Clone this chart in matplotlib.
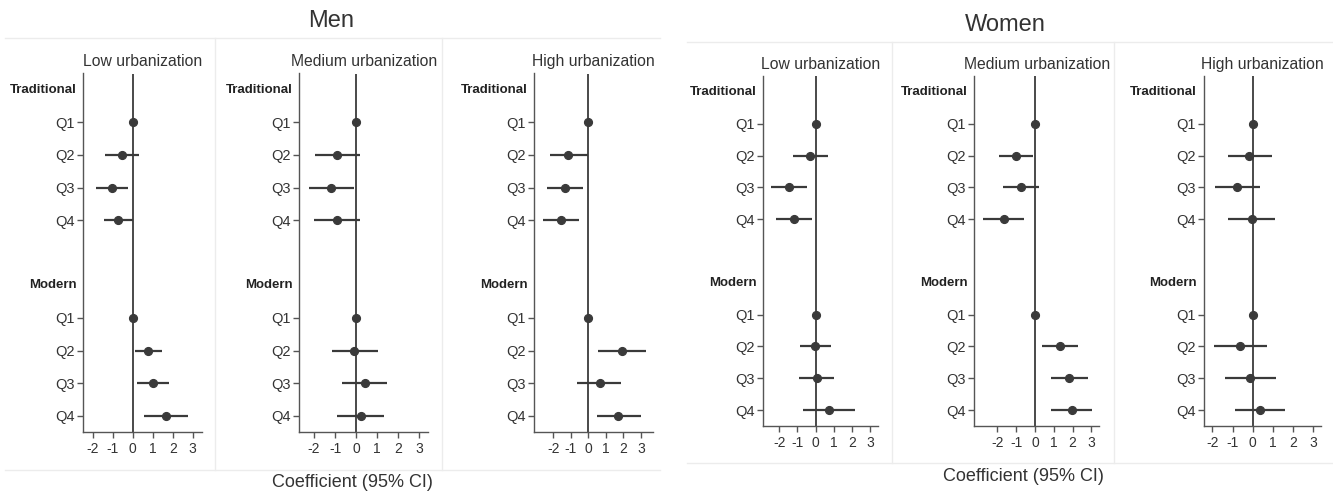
import matplotlib
matplotlib.use('Agg')
import matplotlib.pyplot as plt
from matplotlib.lines import Line2D

plt.rcParams['font.family'] = ['Liberation Sans', 'DejaVu Sans']
plt.rcParams['axes.unicode_minus'] = False

# ---------------- data ----------------
categories = ['Q1', 'Q2', 'Q3', 'Q4']
groups = ['Traditional', 'Modern']
panel_titles = ['Low urbanization', 'Medium urbanization', 'High urbanization']
sex_titles = ['Men', 'Women']
xticks = [-2, -1, 0, 1, 2, 3]

# order: Traditional Q1..Q4, Modern Q1..Q4
men_low_est = [0, -0.52, -1.05, -0.72, 0, 0.75, 1.03, 1.68]
men_low_lo = [0, -1.38, -1.85, -1.42, 0, 0.10, 0.23, 0.58]
men_low_hi = [0, 0.33, -0.25, 0.00, 0, 1.45, 1.83, 2.78]

men_med_est = [0, -0.90, -1.17, -0.90, 0, -0.08, 0.41, 0.22]
men_med_lo = [0, -1.95, -2.24, -1.98, 0, -1.13, -0.65, -0.89]
men_med_hi = [0, 0.19, -0.11, 0.19, 0, 1.03, 1.48, 1.35]

men_high_est = [0, -1.16, -1.35, -1.54, 0, 1.90, 0.65, 1.71]
men_high_lo = [0, -2.19, -2.38, -2.57, 0, 0.57, -0.65, 0.51]
men_high_hi = [0, -0.04, -0.32, -0.51, 0, 3.28, 1.89, 2.99]

women_low_est = [0, -0.29, -1.47, -1.19, 0, -0.06, 0.06, 0.72]
women_low_lo = [0, -1.23, -2.46, -2.18, 0, -0.84, -0.92, -0.72]
women_low_hi = [0, 0.70, -0.48, -0.22, 0, 0.83, 0.99, 2.17]

women_med_est = [0, -1.01, -0.76, -1.66, 0, 1.33, 1.79, 1.95]
women_med_lo = [0, -1.91, -1.72, -2.76, 0, 0.37, 0.83, 0.88]
women_med_hi = [0, -0.11, 0.21, -0.58, 0, 2.28, 2.80, 3.01]

women_high_est = [0, -0.17, -0.76, -0.05, 0, -0.64, -0.13, 0.36]
women_high_lo = [0, -1.24, -1.85, -1.21, 0, -1.92, -1.36, -0.88]
women_high_hi = [0, 0.96, 0.36, 1.11, 0, 0.69, 1.14, 1.59]

# ---------------- layout ----------------
W, H = 1333, 494
fig = plt.figure(figsize=(W / 100, H / 100), dpi=100)
fig.patch.set_facecolor('white')

DARK = '#3a3a3a'
AXC = '#555555'
TXT = '#333333'
SEP = '#ececec'


def fx(px):
    return px / W


def fy(py):
    return 1 - py / H


def hline(x0, x1, y):
    fig.add_artist(Line2D([fx(x0), fx(x1)], [fy(y), fy(y)], color=SEP, lw=1.0,
                          transform=fig.transFigure))


def vline(x, y0, y1):
    fig.add_artist(Line2D([fx(x), fx(x)], [fy(y0), fy(y1)], color=SEP, lw=1.0,
                          transform=fig.transFigure))


panels = [
    # (sex, panel idx, est, lo, hi, x0, x1, ytop, ybot, xlim, title_y)
    (0, 0, men_low_est, men_low_lo, men_low_hi, 83.3, 201.7, 73.5, 432, (-2.47, 3.45), 61.5),
    (0, 1, men_med_est, men_med_lo, men_med_hi, 299.3, 428.3, 73.5, 432, (-2.70, 3.44), 61.5),
    (0, 2, men_high_est, men_high_lo, men_high_hi, 534.3, 653.3, 73.5, 432, (-3.09, 3.71), 61.5),
    (1, 0, women_low_est, women_low_lo, women_low_hi, 763.3, 878.3, 76, 426, (-2.88, 3.45), 64.5),
    (1, 1, women_med_est, women_med_lo, women_med_hi, 974.3, 1099.3, 76, 426, (-3.22, 3.42), 64.5),
    (1, 2, women_high_est, women_high_lo, women_high_hi, 1203.7, 1320.7, 76, 426, (-2.43, 3.37), 64.5),
]

ypos = [g * 6 + 1 + i for g in range(len(groups)) for i in range(len(categories))]
ylabels = categories * len(groups)

for sex, pi, est, lo, hi, x0, x1, yt, yb, xl, ty in panels:
    ax = fig.add_axes([fx(x0), fy(yb), fx(x1) - fx(x0), (yb - yt) / H])
    ax.set_xlim(*xl)
    ax.set_ylim(10.5, -0.5)
    ax.axvline(0, color=DARK, lw=1.3, zorder=1)
    ax.hlines(ypos, lo, hi, color=DARK, lw=1.6, zorder=2)
    ax.plot(est, ypos, 'o', ms=5.6, color=DARK, zorder=3)
    ax.set_yticks(ypos)
    ax.set_yticklabels(ylabels, fontsize=10.5, color=TXT)
    ax.set_xticks(xticks)
    ax.set_xticklabels([str(t) for t in xticks], fontsize=10, color=TXT)
    for s in ['top', 'right']:
        ax.spines[s].set_visible(False)
    for s in ['left', 'bottom']:
        ax.spines[s].set_color(AXC)
        ax.spines[s].set_linewidth(1.0)
    ax.tick_params(axis='both', direction='out', length=4.3, width=1.0,
                   color=AXC, pad=1.5)
    ax.tick_params(axis='x', pad=3)
    ax.set_facecolor('none')
    for g, name in enumerate(groups):
        ax.annotate(name, xy=(0, g * 6), xycoords=('axes fraction', 'data'),
                    xytext=(-5, 0), textcoords='offset points', ha='right',
                    va='center', fontsize=9.5, fontweight='bold', color='#222222')
    fig.text(fx((x0 + x1) / 2), fy(ty), panel_titles[pi], ha='center',
             va='center', fontsize=11.3, color=TXT)

# block titles, captions and separators
fig.text(fx(331), fy(21), sex_titles[0], ha='center', va='center', fontsize=17, color=TXT)
fig.text(fx(1005), fy(25), sex_titles[1], ha='center', va='center', fontsize=17, color=TXT)
fig.text(fx(352), fy(482), 'Coefficient (95% CI)', ha='center', va='center',
         fontsize=13, color=TXT)
fig.text(fx(1023), fy(476), 'Coefficient (95% CI)', ha='center', va='center',
         fontsize=13, color=TXT)

hline(5, 660, 38)
hline(5, 660, 470)
vline(215, 38, 470)
vline(442, 38, 470)

hline(687, 1333, 42)
hline(687, 1333, 463)
vline(892, 42, 463)
vline(1114, 42, 463)

fig.savefig('out.png', dpi=100, facecolor='white')
